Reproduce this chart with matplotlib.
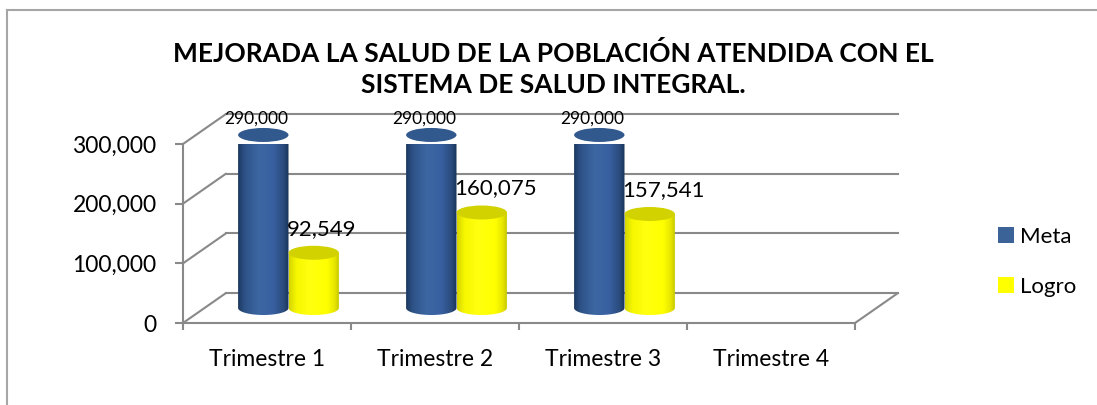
import numpy as np
import matplotlib
matplotlib.use("Agg")
import matplotlib.pyplot as plt
from matplotlib import transforms
from matplotlib.colors import LinearSegmentedColormap
from matplotlib.patches import Ellipse, PathPatch, Patch, ConnectionPatch
from matplotlib.path import Path
from matplotlib.lines import Line2D

plt.rcParams['font.family'] = ['Lato', 'DejaVu Sans']

# datos
categorias = ["Trimestre 1", "Trimestre 2", "Trimestre 3", "Trimestre 4"]
meta = [290000, 290000, 290000, None]
logro = [92549, 160075, 157541, None]
series = ["Meta", "Logro"]
yticks = [0, 100000, 200000, 300000]
titulo = "MEJORADA LA SALUD DE LA POBLACIÓN ATENDIDA CON EL\nSISTEMA DE SALUD INTEGRAL."

W, H = 1097, 405
fig = plt.figure(figsize=(W / 100, H / 100), dpi=100)
ax = fig.add_axes([183 / W, (H - 323) / H, 672 / W, 179 / H])
ax.set_xlim(0, 4)
ax.set_ylim(0, 300000)
ax.patch.set_visible(False)

gris = "#898989"
# profundidad 3D (pixeles)
dx, dy = 43, 30
back = transforms.offset_copy(ax.transData, fig, x=dx, y=dy, units='dots')
mid = transforms.offset_copy(ax.transData, fig, x=dx / 2, y=dy / 2, units='dots')

for s in ["top", "right"]:
   ax.spines[s].set_visible(False)
for s in ["left", "bottom"]:
   ax.spines[s].set_color(gris)
   ax.spines[s].set_linewidth(1.5)

ax.set_yticks(yticks)
ax.set_yticklabels([f"{v:,.0f}" for v in yticks])
ax.tick_params(axis='y', length=6, width=1.5, color=gris, labelsize=16.5, pad=13)
ax.set_xticks(range(5))
ax.set_xticklabels([])
ax.set_xticks([i + 0.5 for i in range(4)], minor=True)
ax.set_xticklabels(categorias, minor=True)
ax.tick_params(axis='x', which='major', length=5, width=1.5, color=gris)
ax.tick_params(axis='x', which='minor', length=0, labelsize=16.5, pad=19)

# paredes y lineas de division
for v in yticks:
   ax.plot([0, 4], [v, v], color=gris, lw=1.5, transform=back, clip_on=False, zorder=1)
   cp = ConnectionPatch(xyA=(0, v), coordsA=ax.transData, xyB=(0, v), coordsB=back,
                        color=gris, lw=1.5, zorder=1)
   ax.add_artist(cp)
cp = ConnectionPatch(xyA=(4, 0), coordsA=ax.transData, xyB=(4, 0), coordsB=back,
                     color=gris, lw=1.5, zorder=1)
ax.add_artist(cp)

cm_azul = LinearSegmentedColormap.from_list("azul", [(0, "#1c375f"), (0.12, "#2d5185"), (0.4, "#3d67a3"),
                                                      (0.7, "#3860a0"), (0.9, "#2a4b7c"), (1, "#1b3458")])
cm_amar = LinearSegmentedColormap.from_list("amar", [(0, "#d6d600"), (0.15, "#f7f700"), (0.4, "#ffff10"),
                                                      (0.75, "#ffff00"), (0.9, "#e6e600"), (1, "#c2c200")])
tapas = {"Meta": "#32598e", "Logro": "#d2d200"}
mapas = {"Meta": cm_azul, "Logro": cm_amar}

px_val = 179 / 300000.0
b = 7 / px_val  # semieje vertical de la elipse en unidades de datos
a = 0.15


def cilindro(x0, valor, serie):
   x1 = x0 + 2 * a
   cx = x0 + a
   th = np.linspace(np.pi, 2 * np.pi, 40)
   verts = [(x0, valor), (x0, 0)] + [(cx + a * np.cos(t), b * np.sin(t)) for t in th] + [(x1, valor), (x0, valor)]
   codes = [Path.MOVETO] + [Path.LINETO] * (len(verts) - 2) + [Path.CLOSEPOLY]
   clip = PathPatch(Path(verts, codes), transform=mid)
   grad = np.linspace(0, 1, 200).reshape(1, -1)
   im = ax.imshow(grad, cmap=mapas[serie], extent=[x0, x1, -b, valor], aspect='auto',
                  transform=mid, zorder=3, interpolation='bilinear')
   im.set_clip_path(clip)
   im.set_clip_box(None)
   ax.add_patch(Ellipse((cx, valor), 2 * a, 2 * b, transform=mid, facecolor=tapas[serie],
                        edgecolor='none', zorder=4, clip_on=False))


for i in range(4):
   if meta[i] is not None:
      cilindro(i + 0.2, meta[i], "Meta")
      ax.annotate(f"{meta[i]:,.0f}", xy=(i + 0.35, meta[i]), xycoords=mid,
                  xytext=(-7, 16), textcoords='offset pixels', ha='center', va='center',
                  fontsize=12.5, zorder=6)
   if logro[i] is not None:
      cilindro(i + 0.5, logro[i], "Logro")
      ax.annotate(f"{logro[i]:,.0f}", xy=(i + 0.5, logro[i]), xycoords=mid,
                  xytext=(-2, 24), textcoords='offset pixels', ha='left', va='center',
                  fontsize=16, zorder=6)

ax.set_xlim(0, 4)
ax.set_ylim(0, 300000)

fig.text(553 / W, 1 - 69 / H, titulo, ha='center', va='center', fontsize=19,
         fontweight='bold', linespacing=1.32)

handles = [Patch(facecolor="#3b6398", edgecolor='none'), Patch(facecolor="#ffff00", edgecolor='none')]
fig.legend(handles, series, loc='center left', bbox_to_anchor=(987 / W, 1 - 262 / H), frameon=False,
           fontsize=16, handlelength=0.7, handleheight=0.7, handletextpad=0.3, labelspacing=1.35,
           borderpad=0)

# marco del grafico
fig.add_artist(Line2D([7 / W, 1], [1 - 10 / H, 1 - 10 / H], transform=fig.transFigure, color="#a6a6a6", lw=1.5))
fig.add_artist(Line2D([7 / W, 7 / W], [0, 1 - 10 / H], transform=fig.transFigure, color="#a6a6a6", lw=1.5))

fig.savefig("out.png", dpi=100)
